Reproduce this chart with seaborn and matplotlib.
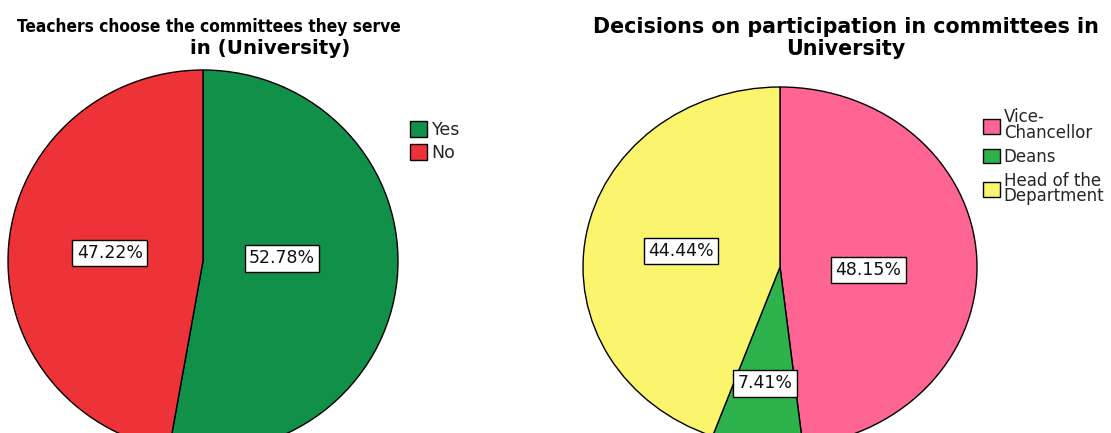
import numpy as np
import matplotlib
matplotlib.use("Agg")
import matplotlib.pyplot as plt
import seaborn as sns
from matplotlib import font_manager
from matplotlib.font_manager import FontProperties

# Survey answers: do teachers choose their committees?
choice_labels = ["Yes", "No"]
choice_pcts = [52.78, 47.22]
choice_colors = ["#11904A", "#EE3338"]

# Who decides committee participation
decider_labels = ["Vice-\nChancellor", "Deans", "Head of the\nDepartment"]
decider_pcts = [48.15, 7.41, 44.44]
decider_colors = ["#FF6593", "#2EB24B", "#FBF56E"]

left_title = ["Teachers choose the committees they serve", "in (University)"]
right_title = ["Decisions on participation in committees in", "University"]

sns.set_theme(style="white")
plt.rcParams["font.family"] = ["DejaVu Sans"]


def condensed_bold():
    """Path of an installed condensed/narrow bold sans face, if there is one."""
    best = None
    for f in font_manager.fontManager.ttflist:
        w = f.weight if isinstance(f.weight, int) else (700 if "bold" in str(f.weight).lower() else 400)
        narrowish = (str(f.stretch) in ("condensed", "semi-condensed", "extra-condensed")
                     or "Condensed" in f.name or "Narrow" in f.name
                     or "Condensed" in f.fname or "Narrow" in f.fname)
        if narrowish and 600 <= w <= 800 and "Italic" not in f.fname and "Oblique" not in f.fname:
            score = 0 if ("Liberation" in f.name or "Arimo" in f.name) else 1
            if best is None or score < best[0]:
                best = (score, f.fname)
    return best[1] if best else None


W, H = 1111, 433
fig = plt.figure(figsize=(W / 100, H / 100), dpi=100)
fig.patch.set_facecolor("white")


def px_axes(cx, cy, rx, ry):
    """Axes whose unit square maps onto the pie ellipse (pixel units, y down)."""
    left = (cx - rx) / W
    bottom = (H - (cy + ry)) / H
    return fig.add_axes([left, bottom, 2 * rx / W, 2 * ry / H])


def draw_pie(ax, values, colors, label_dist, label_turn):
    wedges, _ = ax.pie(values, colors=colors, startangle=90, counterclock=False,
                       radius=1.0, center=(0, 0),
                       wedgeprops=dict(edgecolor="black", linewidth=1.0))
    for w, v, d, turn in zip(wedges, values, label_dist, label_turn):
        mid = np.deg2rad((w.theta1 + w.theta2) / 2 + turn)
        ax.text(d * np.cos(mid), d * np.sin(mid), f"{v:.2f}%",
                ha="center", va="center", fontsize=12.5, color="#111111",
                bbox=dict(boxstyle="square,pad=0.25", facecolor="white",
                          edgecolor="black", linewidth=1.0))
    ax.set_xlim(-1, 1)
    ax.set_ylim(-1, 1)
    ax.set_aspect("auto")
    ax.axis("off")
    return wedges


ax1 = px_axes(203, 261, 195, 191)
w1 = draw_pie(ax1, choice_pcts, choice_colors, [0.405, 0.48], [7.0, 0.0])

ax2 = px_axes(780, 267, 197, 180)
w2 = draw_pie(ax2, decider_pcts, decider_colors, [0.45, 0.65, 0.51], [-5.5, 0.0, 0.0])

# Titles, one line at a time
base_kw = dict(ha="center", va="baseline", color="black")
cpath = condensed_bold()
if cpath:
    fp = FontProperties(fname=cpath, size=15)
else:
    fp = FontProperties(family="Liberation Sans", weight="bold", size=13.2)
t1 = fig.text(209 / W, 1 - 32 / H, left_title[0], fontproperties=fp, **base_kw)
# fit the long first line into the panel width (about 384 px)
fig.canvas.draw()
wpx = t1.get_window_extent().width
fp.set_size(min(fp.get_size() * 384 / wpx, 15.5))
t1.set_fontproperties(fp)

fig.text(270 / W, 1 - 54 / H, left_title[1], fontsize=14.3, fontweight="bold", **base_kw)
fig.text(846 / W, 1 - 33 / H, right_title[0], fontsize=14.9, fontweight="bold", **base_kw)
fig.text(846 / W, 1 - 55 / H, right_title[1], fontsize=14.9, fontweight="bold", **base_kw)

leg_kw = dict(frameon=False, handlelength=1.0, handleheight=1.0,
              handletextpad=0.25, borderpad=0, borderaxespad=0,
              loc="upper left")
leg1 = fig.legend(w1, choice_labels, bbox_to_anchor=(410 / W, 1 - 121 / H),
                  fontsize=12.5, labelspacing=0.3, **leg_kw)
leg2 = fig.legend(w2, decider_labels, bbox_to_anchor=(983 / W, 1 - 108 / H),
                  fontsize=12, labelspacing=0.35, **leg_kw)
for t in leg2.get_texts():
    t.set_linespacing(0.85)

fig.savefig("out.png", dpi=100, facecolor="white")
